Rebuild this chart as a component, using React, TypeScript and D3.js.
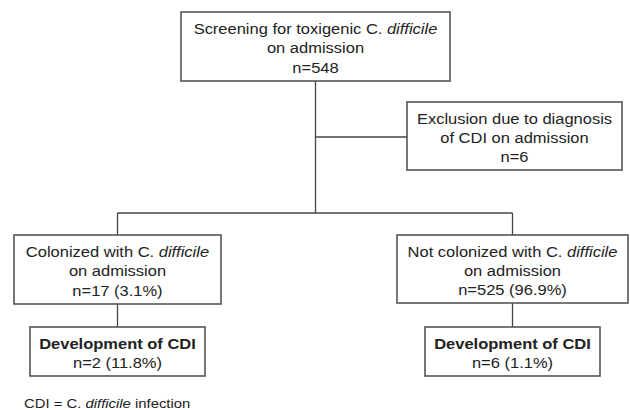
import React, { useEffect, useRef } from "react";
import * as d3 from "d3";

// text of each box: lines made of [text, style] segments ("i" = italic, "b" = bold)
type Seg = [string, string];
const screeningText: Seg[][] = [
  [["Screening for toxigenic ", ""], ["C. ", ""], ["difficile", "i"]],
  [["on admission", ""]],
  [["n=548", ""]],
];
const exclusionText: Seg[][] = [
  [["Exclusion due to diagnosis", ""]],
  [["of CDI on admission", ""]],
  [["n=6", ""]],
];
const colonizedText: Seg[][] = [
  [["Colonized with ", ""], ["C. ", ""], ["difficile", "i"]],
  [["on admission", ""]],
  [["n=17 (3.1%)", ""]],
];
const notColonizedText: Seg[][] = [
  [["Not colonized with ", ""], ["C. ", ""], ["difficile", "i"]],
  [["on admission", ""]],
  [["n=525 (96.9%)", ""]],
];
const devColonizedText: Seg[][] = [
  [["Development of CDI", "b"]],
  [["n=2 (11.8%)", ""]],
];
const devNotColonizedText: Seg[][] = [
  [["Development of CDI", "b"]],
  [["n=6 (1.1%)", ""]],
];
const footnote: Seg[] = [["CDI = ", ""], ["C. ", ""], ["difficile", "i"], [" infection", ""]];

// layout (pixel boxes) kept apart from the text
const boxes = [
  { id: "screen", x0: 181, x1: 450, y0: 12, y1: 81, text: screeningText },
  { id: "excl", x0: 407, x1: 622, y0: 102, y1: 170, text: exclusionText },
  { id: "col", x0: 14, x1: 221, y0: 235, y1: 304, text: colonizedText },
  { id: "notcol", x0: 397, x1: 628, y0: 235, y1: 303, text: notColonizedText },
  { id: "devcol", x0: 30, x1: 205, y0: 327, y1: 376, text: devColonizedText },
  { id: "devnot", x0: 425, x1: 600, y0: 327, y1: 376, text: devNotColonizedText },
];

const W = 630;
const H = 410;
const FONT = "Liberation Sans, Arial, Helvetica, sans-serif";
const SX = 1.1; // the original lettering is a little wide

export default function App() {
  const ref = useRef<SVGSVGElement>(null);

  useEffect(() => {
    const svg = d3.select(ref.current);
    svg.selectAll("*").remove();

    const byId: any = {};
    boxes.forEach((b) => (byId[b.id] = b));
    const cx = (b: any) => (b.x0 + b.x1) / 2;

    const trunkY = 213;
    const exclY = 137;
    const line = d3.line();
    const connectors: [number, number][][] = [
      [[cx(byId.screen), byId.screen.y1], [cx(byId.screen), trunkY]],
      [[cx(byId.screen), exclY], [byId.excl.x0, exclY]],
      [[cx(byId.col), trunkY], [cx(byId.notcol), trunkY]],
      [[cx(byId.col), trunkY], [cx(byId.col), byId.col.y0]],
      [[cx(byId.notcol), trunkY], [cx(byId.notcol), byId.notcol.y0]],
      [[cx(byId.col), byId.col.y1], [cx(byId.col), byId.devcol.y0]],
      [[cx(byId.notcol), byId.notcol.y1], [cx(byId.notcol), byId.devnot.y0]],
    ];
    svg
      .append("g")
      .selectAll("path")
      .data(connectors)
      .join("path")
      .attr("d", (d) => line(d))
      .attr("fill", "none")
      .attr("stroke", "#444")
      .attr("stroke-width", 1.3);

    const g = svg.selectAll("g.box").data(boxes).join("g").attr("class", "box");
    g.append("rect")
      .attr("x", (d) => d.x0)
      .attr("y", (d) => d.y0)
      .attr("width", (d) => d.x1 - d.x0)
      .attr("height", (d) => d.y1 - d.y0)
      .attr("fill", "#fff")
      .attr("stroke", "#555")
      .attr("stroke-width", 1.6);

    g.each(function (d) {
      const n = d.text.length;
      const lh = 19.3;
      const mid = (d.y0 + d.y1) / 2;
      const t = d3
        .select(this)
        .append("text")
        .attr("transform", `scale(${SX},1)`)
        .attr("text-anchor", "middle")
        .attr("font-family", FONT)
        .attr("font-size", 15)
        .attr("fill", "#222");
      d.text.forEach((ln, i) => {
        const row = t
          .append("tspan")
          .attr("x", cx(d) / SX)
          .attr("y", mid + (i - (n - 1) / 2) * lh + 7);
        ln.forEach(([s, st]) => {
          row
            .append("tspan")
            .attr("font-style", st === "i" ? "italic" : "normal")
            .attr("font-weight", st === "b" ? "bold" : "normal")
            .text(s);
        });
      });
    });

    const fn = svg
      .append("text")
      .attr("transform", `scale(${SX},1)`)
      .attr("x", 24 / SX)
      .attr("y", 408)
      .attr("font-family", FONT)
      .attr("font-size", 13.5)
      .attr("fill", "#222");
    footnote.forEach(([s, st]) => {
      fn.append("tspan").attr("font-style", st === "i" ? "italic" : "normal").text(s);
    });
  }, []);

  return (
    <svg
      ref={ref}
      width={W}
      height={H}
      style={{ position: "absolute", left: 0, top: 0, background: "#fff" }}
    />
  );
}
